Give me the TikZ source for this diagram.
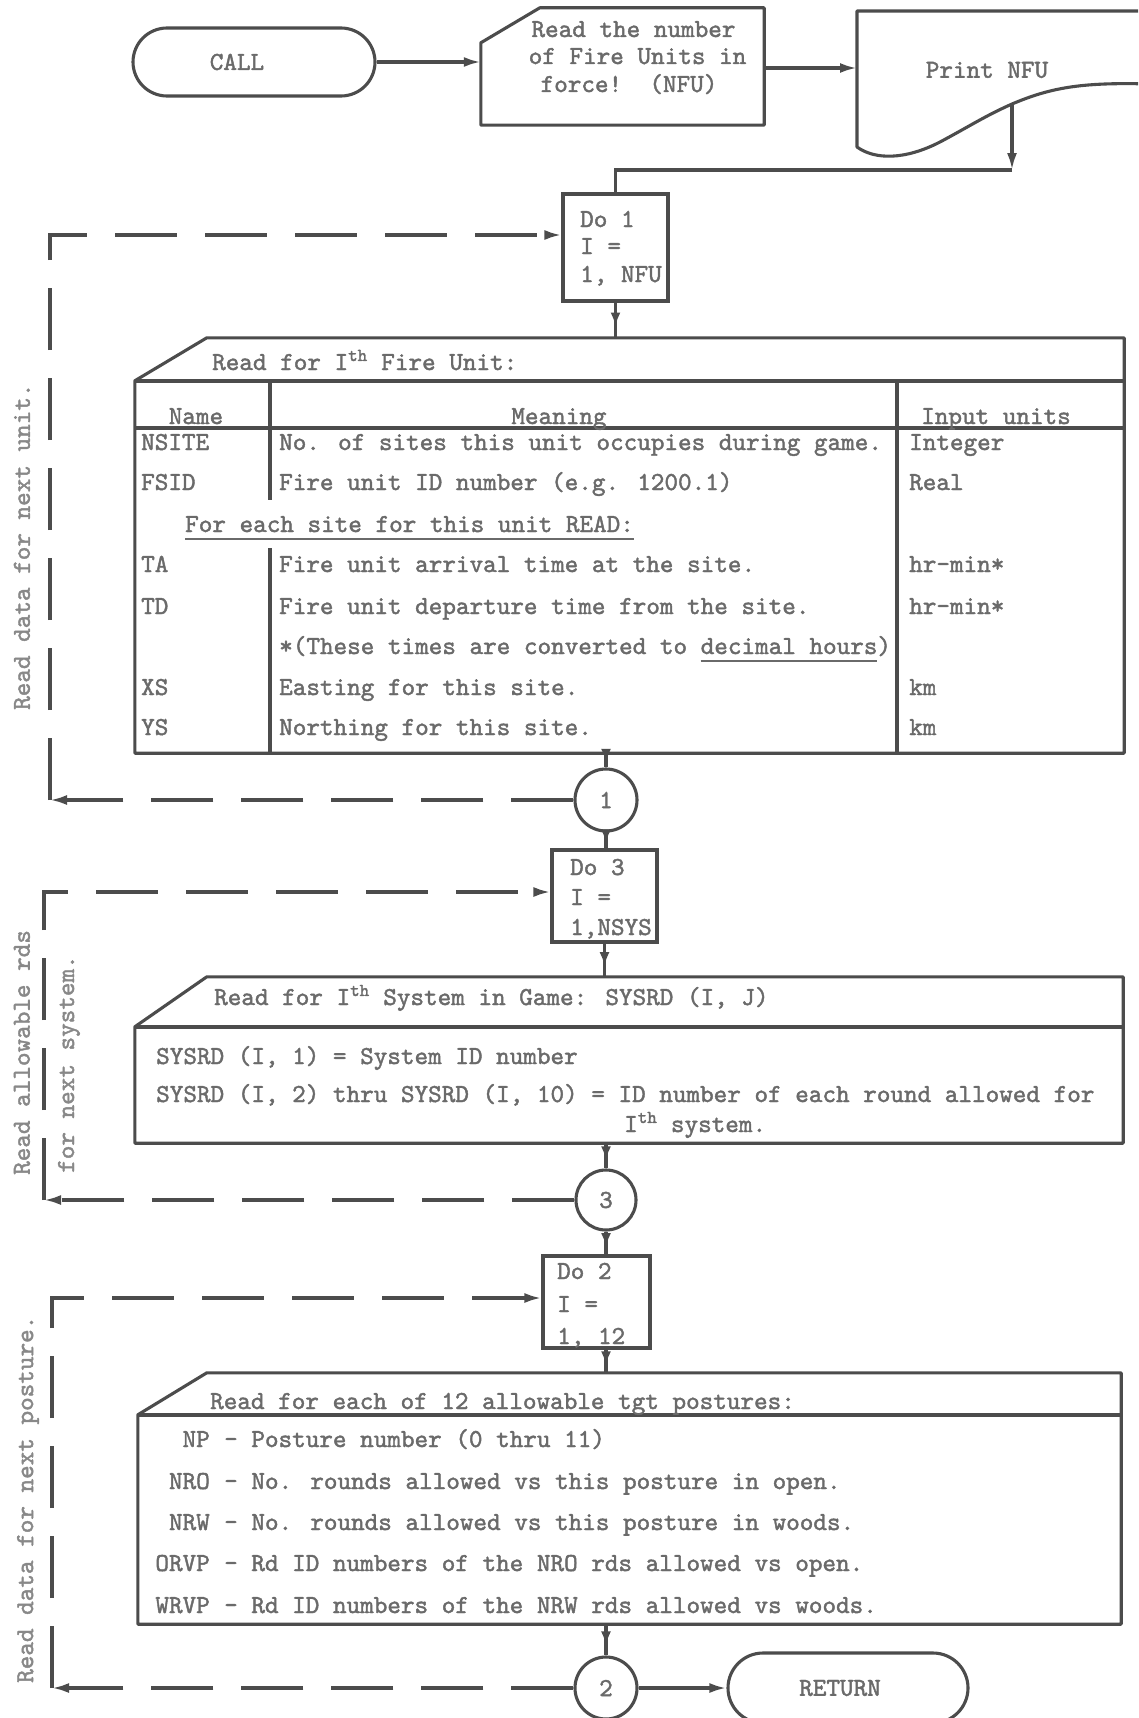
\documentclass[tikz,border=0pt]{standalone}
\usepackage{fontspec}
\newfontfamily\tw{lmmono10-regular.otf}[FakeBold=1.6]
\usetikzlibrary{arrows.meta,decorations.markings,calc}
\definecolor{ink}{HTML}{4C4C4C}
\definecolor{type}{HTML}{6A6A6A}
\definecolor{side}{HTML}{888888}
\newcommand\flowtype{\tw\fontsize{25.9}{30}\selectfont}
% thick underline for typed text
\newcommand\tul[1]{\setbox0=\hbox{#1}\rlap{\color{type}\rule[-8pt]{\wd0}{2.2pt}}\box0}
\begin{document}
\begin{tikzpicture}[x=1pt,y=-1pt,
  ln/.style={draw=ink,color=ink,line width=3.1pt},
  hdr/.style={draw=ink,line width=4.2pt},
  frame/.style={ln,line join=round},
  tx/.style={text=type,font=\flowtype,inner sep=0pt},
  sidetx/.style={text=side,font=\flowtype,inner sep=0pt,rotate=90,anchor=west},
  dobox/.style={ln,rectangle,inner sep=0pt},
  conn/.style={ln,circle,inner sep=0pt,text=type,font=\flowtype},
  term/.style={ln,rectangle,inner sep=0pt,text=type,font=\flowtype},
  tip/.style={-{Latex[length=17pt,width=10pt]}},
  midtip/.style={postaction=decorate,decoration={markings,mark=at position 0.68 with {\arrow{Latex[length=14pt,width=10pt]}}}},
  back/.style={ln,dash pattern=on 62pt off 28pt},
]
\useasboundingbox (0,0) rectangle (1138,1718);
\fill[white] (0,0) rectangle (1138,1718);
\clip (0,0) rectangle (1138,1718);

% ---------- entry ----------
\node[term,minimum width=242pt,minimum height=68pt,rounded corners=34pt] (call) at (254,62) {\hspace*{-34pt}CALL};

% manual input: number of fire units
\node[minimum width=283pt,minimum height=117pt,inner sep=0pt] (rd) at (622.5,66.5) {};
\draw[frame] (rd.south west) -- ([yshift=-35pt]rd.north west) -- ([xshift=59pt]rd.north west) -- (rd.north east) -- (rd.south east) -- cycle;
\node[tx,anchor=base] (rd1) at (633.5,37) {Read the number};
\node[tx,anchor=base] (rd2) at (637.5,64) {of Fire Units in};
\node[tx,anchor=base] (rd3) at (629,92) {force!\ \ (NFU)};

% printed document
\coordinate (prw) at (857,68);
\coordinate (prc) at (1012,104);
\draw[frame] (1150,11) -- (857,11) -- (857,147) .. controls (875,160) and (905,160) .. (940,142) .. controls (970,126) and (985,116) .. (prc) .. controls (1050,88) and (1080,82) .. (1150,84);
\node[tx] (pr) at (987,70) {Print NFU};

\draw[ln,tip] (call.east) -- (call.east -| rd.west);
\draw[ln,tip] (rd.east |- prw) -- (prw);

% ---------- loop over fire units ----------
\node[dobox,minimum width=105pt,minimum height=107pt] (do1) at (615.5,247.5) {};
\node[tx,anchor=base west] (do1a) at (580,227) {Do 1};
\node[tx,anchor=base west] (do1b) at (580,254) {I =};
\node[tx,anchor=base west] (do1c) at (580,282) {1, NFU};

\coordinate (bend) at (1012,170);
\draw[ln,tip] (prc) -- (bend);
\draw[ln] (bend) -| (do1.north);

\node[minimum width=989pt,minimum height=415pt,inner sep=0pt] (b1) at (629.5,545.5) {};
\draw[frame] (b1.south west) -- ([yshift=-43pt]b1.north west) -- ([xshift=72pt]b1.north west) -- (b1.north east) -- (b1.south east) -- cycle;
\draw[hdr] (135,381) -- (1124,381);
\draw[hdr] (135,428) -- (1124,428);
\draw[ln] (270,381) -- (270,500) (270,548) -- (270,753);
\draw[ln] (897,381) -- (897,753);

\node[tx,anchor=base west] (h1) at (212,370) {Read for I\textsuperscript{th} Fire Unit:};
\node[tx,anchor=base] (k1) at (196,424) {Name};
\node[tx,anchor=base] (k2) at (559,424) {Meaning};
\node[tx,anchor=base] (k3) at (996,424) {Input units};

\node[tx,anchor=base west] (n1) at (141,450) {NSITE};
\node[tx,anchor=base west] (m1) at (279,450) {No. of sites this unit occupies during game.};
\node[tx,anchor=base west] (u1) at (909,450) {Integer};
\node[tx,anchor=base west] (n2) at (141,490) {FSID};
\node[tx,anchor=base west] (m2) at (279,490) {Fire unit ID number (e.g. 1200.1)};
\node[tx,anchor=base west] (u2) at (909,490) {Real};
\node[tx,anchor=base west] (fe) at (185,532) {\tul{For each site for this unit READ:}};
\node[tx,anchor=base west] (n3) at (141,572) {TA};
\node[tx,anchor=base west] (m3) at (279,572) {Fire unit arrival time at the site.};
\node[tx,anchor=base west] (u3) at (909,572) {hr-min*};
\node[tx,anchor=base west] (n4) at (141,614) {TD};
\node[tx,anchor=base west] (m4) at (279,614) {Fire unit departure time from the site.};
\node[tx,anchor=base west] (u4) at (909,614) {hr-min*};
\node[tx,anchor=base west] (m5) at (279,654) {*(These times are converted to \tul{decimal hours})};
\node[tx,anchor=base west] (n6) at (141,695) {XS};
\node[tx,anchor=base west] (m6) at (279,695) {Easting for this site.};
\node[tx,anchor=base west] (u6) at (909,695) {km};
\node[tx,anchor=base west] (n7) at (141,735) {YS};
\node[tx,anchor=base west] (m7) at (279,735) {Northing for this site.};
\node[tx,anchor=base west] (u7) at (909,735) {km};

\node[conn,minimum size=62pt] (c1) at (606,800) {1};

\draw[ln,midtip] (do1.south) -- (do1.south |- b1.north);
\draw[ln,midtip] (c1.north |- b1.south) -- (c1.north);

\coordinate (l1) at (50,235);
\draw[back,tip] (c1.west) -- (c1.west -| l1);
\draw[back,tip] (c1.west -| l1) -- (l1) -- (l1 -| do1.west);
\node[sidetx] (s1) at (22,710) {Read data for next unit.};

% ---------- loop over systems ----------
\node[dobox,minimum width=105pt,minimum height=92pt] (do3) at (604.5,896) {};
\node[tx,anchor=base west] (do3a) at (570,875) {Do 3};
\node[tx,anchor=base west] (do3b) at (570,905) {I =};
\node[tx,anchor=base west] (do3c) at (570,935) {1,NSYS};
\draw[ln,midtip] (c1.south) -- (c1.south |- do3.north);

\node[minimum width=988pt,minimum height=166pt,inner sep=0pt] (b2) at (629,1060) {};
\draw[frame] (b2.south west) -- ([yshift=-50pt]b2.north west) -- ([xshift=72pt]b2.north west) -- (b2.north east) -- (b2.south east) -- cycle;
\draw[hdr] (135,1027) -- (1123,1027);
\node[tx,anchor=base west] (h2) at (214,1005) {Read for I\textsuperscript{th} System in Game: SYSRD (I, J)};
\node[tx,anchor=base west] (r21) at (156,1064) {SYSRD (I, 1) = System ID number};
\node[tx,anchor=base west] (r22) at (156,1102) {SYSRD (I, 2) thru SYSRD (I, 10) = ID number of each round allowed for};
\node[tx,anchor=base west] (r23) at (624,1132) {I\textsuperscript{th} system.};
\draw[ln,midtip] (do3.south) -- (do3.south |- b2.north);

\node[conn,minimum size=60pt] (c3) at (606,1200) {3};
\draw[ln,midtip] (c3.north |- b2.south) -- (c3.north);

\coordinate (l2) at (44,892);
\draw[back,tip] (c3.west) -- (c3.west -| l2);
\draw[back,tip] (c3.west -| l2) -- (l2) -- (l2 -| do3.west);
\node[sidetx] (s2) at (22,1175) {Read allowable rds};
\node[sidetx] (s3) at (69,1173) {for next system.};

% ---------- loop over target postures ----------
\node[dobox,minimum width=107pt,minimum height=92pt] (do2) at (596.5,1302) {};
\node[tx,anchor=base west] (do2a) at (557,1279) {Do 2};
\node[tx,anchor=base west] (do2b) at (557,1312) {I =};
\node[tx,anchor=base west] (do2c) at (557,1344) {1, 12};
\draw[ln,midtip] (c3.south) -- (c3.south |- do2.north);

\node[minimum width=983pt,minimum height=251pt,inner sep=0pt] (b3) at (629.5,1498.5) {};
\draw[frame] (b3.south west) -- ([yshift=-42pt]b3.north west) -- ([xshift=69pt]b3.north west) -- (b3.north east) -- (b3.south east) -- cycle;
\draw[hdr] (138,1415) -- (1121,1415);
\node[tx,anchor=base west] (h3) at (210,1409) {Read for each of 12 allowable tgt postures:};
\node[tx,anchor=base east] (p1) at (210,1447) {NP};
\node[tx,anchor=base west] (q1) at (224,1447) {- Posture number (0 thru 11)};
\node[tx,anchor=base east] (p2) at (210,1489) {NRO};
\node[tx,anchor=base west] (q2) at (224,1489) {- No. rounds allowed vs this posture in open.};
\node[tx,anchor=base east] (p3) at (210,1530) {NRW};
\node[tx,anchor=base west] (q3) at (224,1530) {- No. rounds allowed vs this posture in woods.};
\node[tx,anchor=base east] (p4) at (210,1571) {ORVP};
\node[tx,anchor=base west] (q4) at (224,1571) {- Rd ID numbers of the NRO rds allowed vs open.};
\node[tx,anchor=base east] (p5) at (210,1613) {WRVP};
\node[tx,anchor=base west] (q5) at (224,1613) {- Rd ID numbers of the NRW rds allowed vs woods.};
\draw[ln,midtip] (c3.south |- do2.south) -- (c3.south |- b3.north);

\node[conn,minimum size=62pt] (c2) at (606,1688) {2};
\draw[ln,midtip] (c2.north |- b3.south) -- (c2.north);

\node[term,minimum width=240pt,minimum height=70pt,rounded corners=35pt] (ret) at (848,1688) {\hspace*{-16pt}RETURN};
\draw[ln,tip] (c2.east) -- (ret.west);

\coordinate (l3) at (52,1298);
\draw[back,tip] (c2.west) -- (c2.west -| l3);
\draw[back,tip] (c2.west -| l3) -- (l3) -- (l3 -| do2.west);
\node[sidetx] (s4) at (28,1683) {Read data for next posture.};
\end{tikzpicture}
\end{document}
